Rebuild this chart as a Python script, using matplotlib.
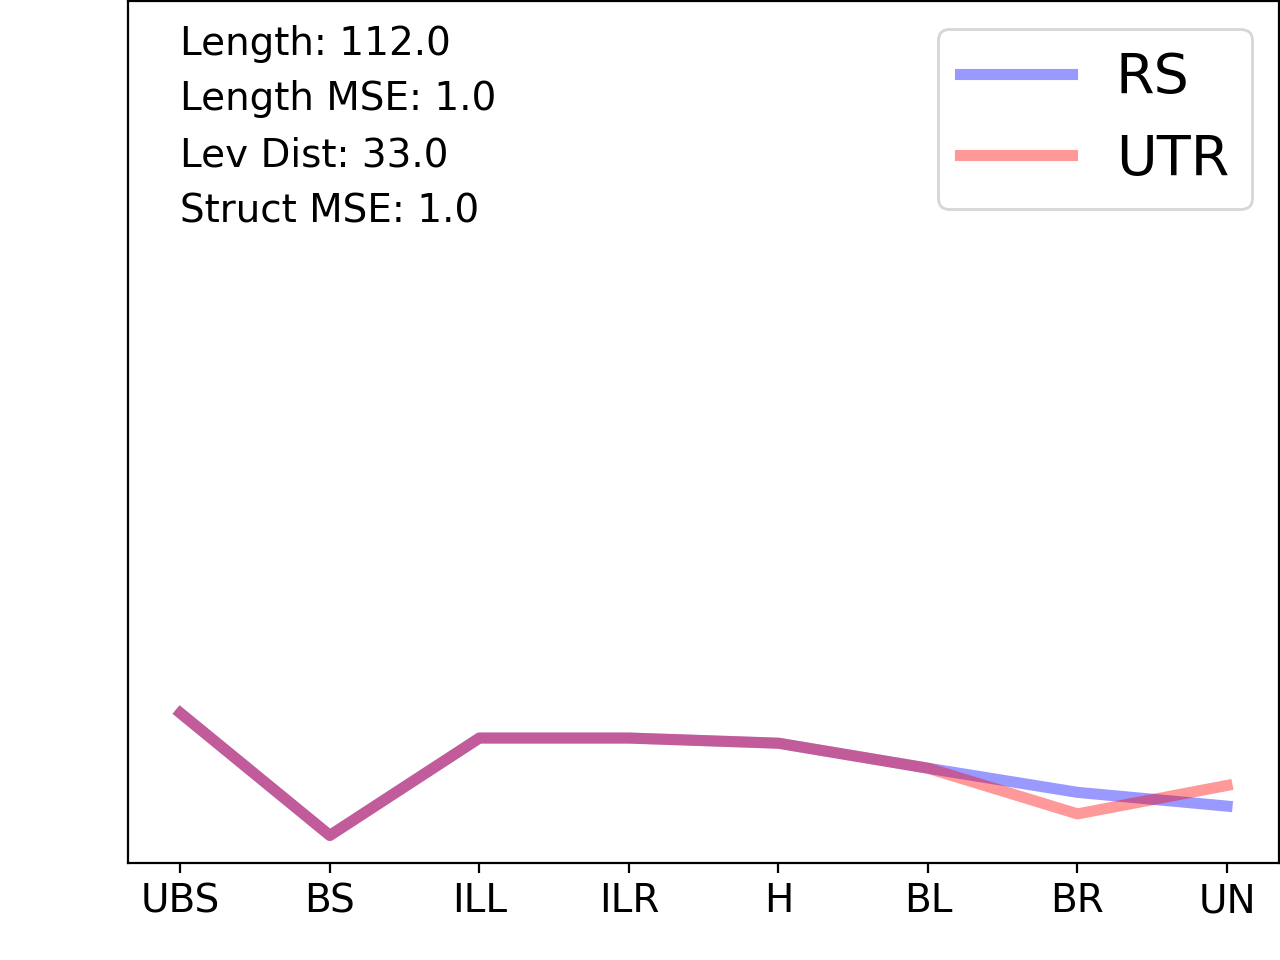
import matplotlib
matplotlib.use("Agg")
import matplotlib.pyplot as plt

# categories along x
labels = ["UBS", "BS", "ILL", "ILR", "H", "BL", "BR", "UN"]

# series values (arbitrary units)
rs_vals = [0.174, 0.032, 0.145, 0.145, 0.139, 0.110, 0.082, 0.066]
utr_vals = [0.174, 0.032, 0.145, 0.145, 0.139, 0.110, 0.057, 0.090]

# stats shown in the corner
stats = ["Length: 112.0", "Length MSE: 1.0", "Lev Dist: 33.0", "Struct MSE: 1.0"]

fig, ax = plt.subplots(figsize=(6.4, 4.8), dpi=200)
fig.subplots_adjust(left=0.1, right=0.9995, top=0.999, bottom=0.101)

x = list(range(len(labels)))
ax.plot(x, rs_vals, color="blue", alpha=0.4, linewidth=4, label="RS")
ax.plot(x, utr_vals, color="red", alpha=0.4, linewidth=4, label="UTR")

ax.set_ylim(0, 1)
ax.set_yticks([])
ax.set_xticks(x)
ax.set_xticklabels(labels, fontsize=14)

ypos = [0.950, 0.886, 0.821, 0.756]
for s, yy in zip(stats, ypos):
    ax.text(0, yy, s, fontsize=14, va="center", ha="left",
            transform=ax.get_xaxis_transform())

ax.legend(loc="upper right", fontsize=20)

fig.savefig("out.png")
